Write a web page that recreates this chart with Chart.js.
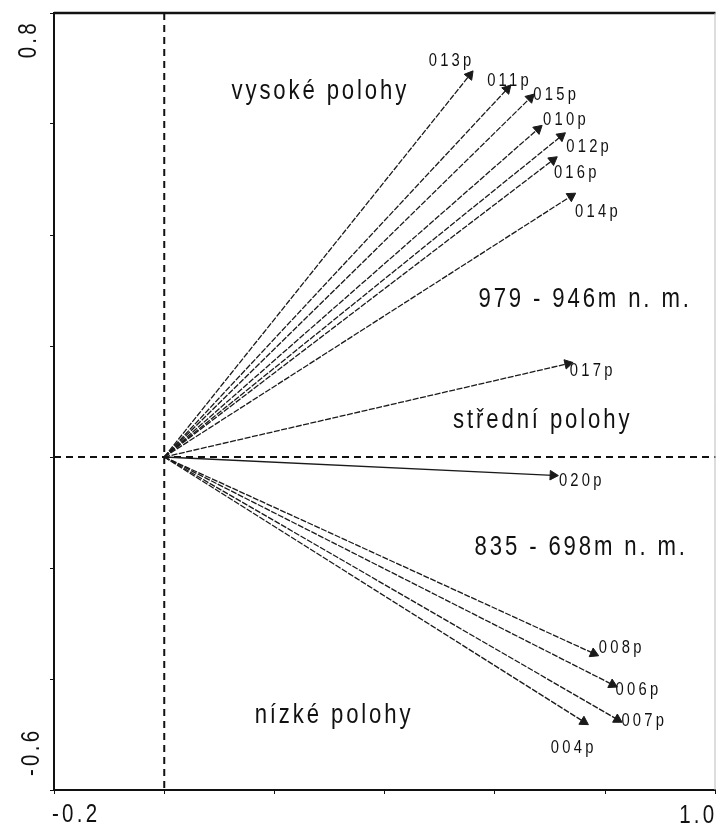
<!DOCTYPE html>
<html>
<head>
<meta charset="utf-8">
<script src="https://cdn.jsdelivr.net/npm/chart.js@4"></script>
<style>
  html, body { margin: 0; padding: 0; background: #fff; }
  #wrap { width: 722px; height: 827px; }
</style>
</head>
<body>
<div id="wrap"><canvas id="c" width="722" height="827"></canvas></div>
<script>
// site vectors (axis 1 / axis 2 scores)
const sites = ["013p", "011p", "015p", "010p", "012p", "016p", "014p", "017p", "020p", "008p", "006p", "007p", "004p"];
const axis1 = [0.554, 0.622, 0.664, 0.678, 0.720, 0.705, 0.738, 0.732, 0.705, 0.779, 0.813, 0.822, 0.761];
const axis2 = [0.688, 0.663, 0.647, 0.591, 0.578, 0.535, 0.470, 0.168, -0.033, -0.354, -0.410, -0.473, -0.477];

// label offsets in px from the arrow tip (text left, text middle)
const labelOffsets = [[-41, -14], [-20, -8], [3, -3], [5, -9], [5, 11], [1, 13], [4, 16], [2, 7], [6, 6], [5, -5], [3, 5], [4, 2], [-33, 26]];

const notes = ["vysoké polohy", "979 - 946m n. m.", "střední polohy", "835 - 698m n. m.", "nízké polohy"];
const notePos = [[0.122, 0.658], [0.570, 0.284], [0.524, 0.065], [0.563, -0.164], [0.164, -0.466]];

const xTicks = ["-0.2", "1.0"];
const yTicks = ["0.8", "-0.6"];

const FONT = '"Liberation Sans", Arial, sans-serif';
const SQUEEZE = 0.82;

function arrowAngle(c) {
  const i = c.datasetIndex;
  const sx = c.chart.scales.x, sy = c.chart.scales.y;
  if (!sx || !sy) return 0;
  const dx = sx.getPixelForValue(axis1[i]) - sx.getPixelForValue(0);
  const dy = sy.getPixelForValue(axis2[i]) - sy.getPixelForValue(0);
  return Math.atan2(dx, -dy) * 180 / Math.PI;
}

// narrow, tall text like the scanned original
function squeezed(ctx, text, x, y, size, spacing, align) {
  ctx.save();
  ctx.font = size + "px " + FONT;
  ctx.letterSpacing = spacing + "px";
  ctx.textAlign = align || "left";
  ctx.textBaseline = "middle";
  ctx.translate(x, y);
  ctx.scale(SQUEEZE, 1);
  ctx.fillText(text, 0, 0);
  ctx.restore();
}

const decor = {
  id: "decor",
  beforeDatasetsDraw(chart) {
    const { ctx, chartArea: a, scales: { x, y } } = chart;
    ctx.save();
    ctx.strokeStyle = "#111";
    ctx.lineWidth = 2;
    ctx.setLineDash([7, 5]);
    const x0 = x.getPixelForValue(0), y0 = y.getPixelForValue(0);
    ctx.beginPath();
    ctx.moveTo(x0, a.top); ctx.lineTo(x0, a.bottom);
    ctx.moveTo(a.left, y0); ctx.lineTo(a.right, y0);
    ctx.stroke();
    ctx.setLineDash([]);
    ctx.lineWidth = 2.5;
    ctx.beginPath();
    ctx.moveTo(a.left, a.top); ctx.lineTo(a.right, a.top);
    ctx.stroke();
    ctx.strokeStyle = "#bbb";
    ctx.lineWidth = 1;
    ctx.beginPath();
    ctx.moveTo(a.right - 0.5, a.top); ctx.lineTo(a.right - 0.5, a.bottom);
    ctx.stroke();
    ctx.restore();
  },
  afterDatasetsDraw(chart) {
    const { ctx, chartArea: a, scales: { x, y } } = chart;
    ctx.save();
    ctx.fillStyle = "#111";

    sites.forEach((s, i) => {
      const px = x.getPixelForValue(axis1[i]) + labelOffsets[i][0];
      const py = y.getPixelForValue(axis2[i]) + labelOffsets[i][1];
      squeezed(ctx, s, px, py, 18, 4);
    });

    notes.forEach((t, i) => {
      squeezed(ctx, t, x.getPixelForValue(notePos[i][0]), y.getPixelForValue(notePos[i][1]), 27, 3.5);
    });

    squeezed(ctx, xTicks[0], a.left - 2, 815, 25, 4);
    squeezed(ctx, xTicks[1], a.right + 2, 816, 25, 4, "right");

    ctx.save();
    ctx.translate(29, a.top + 7);
    ctx.rotate(-Math.PI / 2);
    squeezed(ctx, yTicks[0], 0, 0, 25, 4, "right");
    ctx.restore();

    ctx.save();
    ctx.translate(32, a.bottom - 14);
    ctx.rotate(-Math.PI / 2);
    squeezed(ctx, yTicks[1], 0, 0, 25, 4, "left");
    ctx.restore();

    ctx.restore();
  }
};

const datasets = sites.map((s, i) => ({
  label: s,
  data: [{ x: 0, y: 0 }, { x: axis1[i], y: axis2[i] }],
  showLine: true,
  borderColor: "#1a1a1a",
  backgroundColor: "#1a1a1a",
  borderWidth: 1.3,
  borderDash: i === 8 ? [] : [6, 1.5],
  pointRadius: (c) => (c.dataIndex === 1 ? 5.5 : 0),
  pointStyle: "triangle",
  rotation: arrowAngle,
  pointBorderWidth: 1
}));

new Chart(document.getElementById("c"), {
  type: "scatter",
  data: { datasets },
  plugins: [decor],
  options: {
    responsive: false,
    animation: false,
    devicePixelRatio: 1,
    layout: { padding: { top: 13, right: 1, left: 0, bottom: 0 } },
    plugins: { legend: { display: false }, tooltip: { enabled: false } },
    scales: {
      x: {
        type: "linear",
        min: -0.2,
        max: 1.0,
        ticks: { stepSize: 0.2, display: false },
        grid: { drawOnChartArea: false, drawTicks: true, tickLength: 4, color: "#111" },
        border: { color: "#111", width: 2 },
        afterFit: (s) => { s.height = 37; }
      },
      y: {
        type: "linear",
        min: -0.6,
        max: 0.8,
        ticks: { stepSize: 0.2, display: false },
        grid: { drawOnChartArea: false, drawTicks: true, tickLength: 4, color: "#111" },
        border: { color: "#111", width: 2 },
        afterFit: (s) => { s.width = 54; }
      }
    }
  }
});
</script>
</body>
</html>
